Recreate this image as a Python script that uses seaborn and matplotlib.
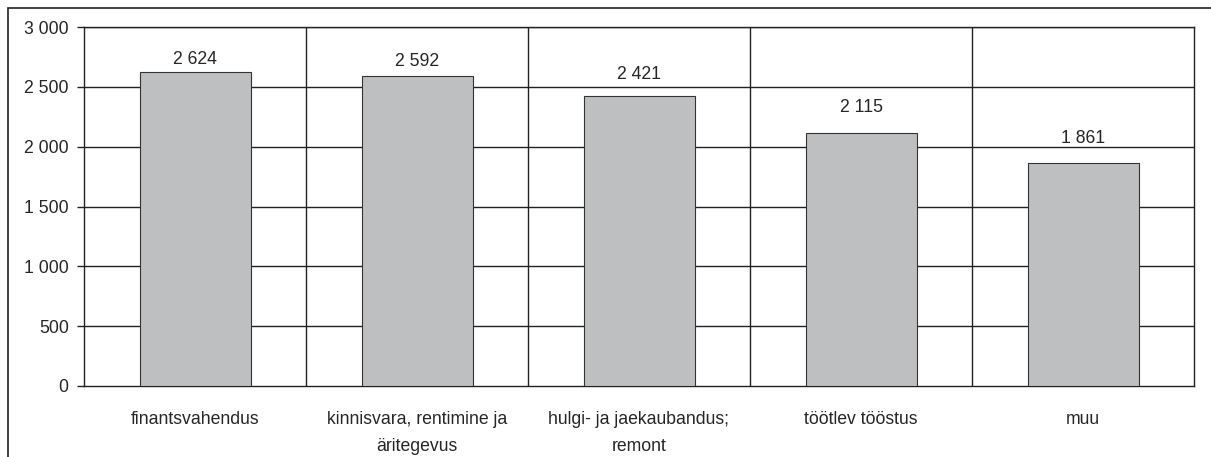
import matplotlib
matplotlib.use("Agg")
import matplotlib.pyplot as plt
import seaborn as sns
import pandas as pd
from matplotlib.patches import Rectangle
from matplotlib.ticker import FuncFormatter, MultipleLocator

categories = ["finantsvahendus", "kinnisvara, rentimine ja\näritegevus",
              "hulgi- ja jaekaubandus;\nremont", "töötlev tööstus", "muu"]
values = [2624, 2592, 2421, 2115, 1861]
# gap (in pixels) between bar top and its value label, as placed in the original
label_gaps_px = [7, 9, 17, 20, 20]

sns.set_theme(style="white")
plt.rcParams['font.family'] = ['Liberation Sans', 'DejaVu Sans']

W, H = 1211, 457
FS = 12.7
fig = plt.figure(figsize=(W/100, H/100), dpi=100)
ax = fig.add_axes([84/W, 1-386/H, (1194-84)/W, (386-27)/H])

df = pd.DataFrame({"cat": categories, "val": values})
sns.barplot(data=df, x="cat", y="val", ax=ax, color="#BEBFC1", saturation=1,
            width=0.5, edgecolor="#333333", linewidth=0.8, zorder=3)

ax.set_ylim(0, 3000)
ax.set_xlim(-0.5, len(categories)-0.5)
ax.yaxis.set_major_locator(MultipleLocator(500))
ax.yaxis.set_major_formatter(FuncFormatter(lambda v, p: f"{int(v):,}".replace(",", " ")))
for y in range(500, 3001, 500):
    ax.axhline(y, color="#222222", lw=1.0, zorder=1)
for xb in range(1, len(categories)):
    ax.axvline(xb-0.5, color="#222222", lw=1.0, zorder=1)

for s in ax.spines.values():
    s.set_color("#222222"); s.set_linewidth(1.0)

ax.tick_params(axis="y", left=True, length=5, width=1, color="#222222", labelsize=FS, pad=6)
ax.tick_params(axis="x", bottom=False, labelsize=FS, pad=12)
for lbl in ax.get_xticklabels():
    lbl.set_multialignment("center")
    lbl.set_linespacing(1.75)
ax.set_xlabel(""); ax.set_ylabel("")

for i, (v, g) in enumerate(zip(values, label_gaps_px)):
    ax.annotate(f"{v:,}".replace(",", " "), xy=(i, v), xytext=(0, (g - 3.5) * 0.72),
                textcoords="offset points", ha="center", va="bottom", fontsize=FS)

fig.patches.append(Rectangle((8/W, -0.1), 1.2, 1 - 8/H + 0.1, transform=fig.transFigure,
                             fill=False, edgecolor="#222222", lw=1.2))

fig.savefig("out.png", dpi=100)
